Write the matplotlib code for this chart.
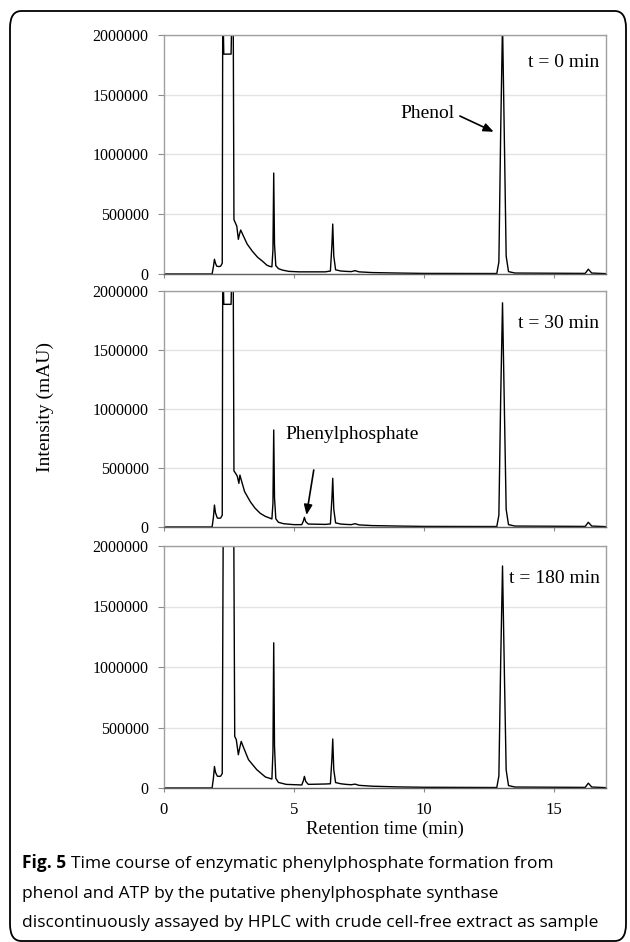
import matplotlib
matplotlib.use("Agg")
import matplotlib.pyplot as plt
from matplotlib.patches import FancyBboxPatch

# chromatogram at t = 0 min (retention time in min, intensity in mAU)
time_0 = [
    0, 1.85, 1.90, 1.94, 1.98, 2.03, 2.12, 2.18, 2.24, 2.26, 2.30,
    2.58, 2.62, 2.66, 2.69, 2.74, 2.80, 2.86, 2.90, 2.95, 3.05, 3.20,
    3.40, 3.60, 3.80, 3.95, 4.05, 4.15, 4.19, 4.22, 4.25, 4.30, 4.40,
    4.55, 4.80, 5.20, 6.20, 6.40, 6.46, 6.49, 6.53, 6.60, 6.80, 7.00,
    7.20, 7.35, 7.50, 8.00, 9.00, 10.0, 12.80, 12.88, 12.95, 13.02,
    13.10, 13.16, 13.25, 13.50, 16.20, 16.32, 16.45, 17.0
]
signal_0 = [
    0, 0, 60000, 123000, 90000, 65000, 62000, 66000, 90000, 2300000,
    1840000, 1840000, 2300000, 2300000, 455000, 430000, 400000, 290000,
    330000, 368000, 320000, 250000, 190000, 140000, 105000, 75000,
    65000, 60000, 200000, 845000, 250000, 70000, 45000, 33000, 22000,
    18000, 18000, 25000, 250000, 418000, 150000, 35000, 25000, 22000,
    20000, 28000, 18000, 12000, 8000, 5000, 4000, 100000, 1200000,
    2100000, 1000000, 150000, 20000, 8000, 5000, 40000, 8000, 3000
]

# chromatogram at t = 30 min
time_30 = [
    0, 1.85, 1.90, 1.94, 1.98, 2.05, 2.12, 2.18, 2.24, 2.26, 2.30,
    2.58, 2.62, 2.66, 2.69, 2.74, 2.82, 2.88, 2.92, 2.97, 3.10, 3.32,
    3.50, 3.70, 3.90, 4.09, 4.15, 4.19, 4.22, 4.25, 4.30, 4.40, 4.60,
    5.00, 5.30, 5.36, 5.40, 5.45, 5.55, 6.20, 6.40, 6.46, 6.49, 6.53,
    6.60, 6.80, 7.00, 7.20, 7.35, 7.50, 8.00, 9.00, 10.0, 12.80, 12.88,
    12.95, 13.02, 13.10, 13.16, 13.25, 13.50, 16.20, 16.32, 16.45, 17.0
]
signal_30 = [
    0, 0, 80000, 186000, 120000, 76000, 74000, 76000, 100000, 2300000,
    1887000, 1887000, 2300000, 2300000, 475000, 460000, 430000, 370000,
    440000, 400000, 300000, 214000, 160000, 116000, 90000, 74000,
    68000, 200000, 822000, 250000, 70000, 40000, 28000, 20000, 20000,
    50000, 82000, 45000, 25000, 22000, 26000, 250000, 413000, 150000,
    35000, 25000, 22000, 20000, 28000, 18000, 12000, 8000, 5000, 4000,
    100000, 1100000, 1900000, 900000, 150000, 20000, 8000, 5000, 40000,
    8000, 3000
]

# chromatogram at t = 180 min
time_180 = [
    0, 1.85, 1.90, 1.94, 1.98, 2.05, 2.12, 2.18, 2.24, 2.28, 2.68,
    2.72, 2.78, 2.86, 2.90, 2.97, 3.05, 3.25, 3.57, 3.90, 4.15, 4.19,
    4.22, 4.25, 4.30, 4.40, 4.70, 5.30, 5.36, 5.40, 5.45, 5.55, 6.20,
    6.40, 6.46, 6.49, 6.53, 6.60, 6.80, 7.00, 7.20, 7.35, 7.50, 8.00,
    9.00, 10.0, 12.80, 12.88, 12.95, 13.02, 13.10, 13.16, 13.25, 13.50,
    16.20, 16.32, 16.45, 17.0
]
signal_180 = [
    0, 0, 80000, 178000, 130000, 98000, 96000, 98000, 120000, 2300000,
    2300000, 426000, 400000, 275000, 320000, 385000, 340000, 234000,
    151000, 91000, 74000, 300000, 1200000, 350000, 80000, 46000, 30000,
    25000, 60000, 96000, 55000, 30000, 33000, 35000, 250000, 405000,
    150000, 45000, 35000, 30000, 27000, 32000, 22000, 15000, 9000, 6000,
    4000, 100000, 1050000, 1835000, 850000, 150000, 20000, 8000, 5000,
    40000, 8000, 3000
]

panel_labels = ["t = 0 min", "t = 30 min", "t = 180 min"]
label_heights = [1774000, 1726000, 1733000]

y_ticks = [0, 500000, 1000000, 1500000, 2000000]
x_ticks = [0, 5, 10, 15]

caption_lines = [
    "Time course of enzymatic phenylphosphate formation from",
    "phenol and ATP by the putative phenylphosphate synthase",
    "discontinuously assayed by HPLC with crude cell-free extract as sample"
]

serif = "Liberation Serif"
caption_font = "Open Sans"

fig = plt.figure(figsize=(6.3, 9.42), dpi=100)

# rounded frame around the whole figure
frame = FancyBboxPatch(
    (10 / 630, 1 / 942),
    616 / 630,
    930 / 942,
    boxstyle="round,pad=0,rounding_size=0.018",
    transform=fig.transFigure,
    facecolor="none",
    edgecolor="black",
    linewidth=1.3
)
fig.patches.append(frame)

# axes boxes in pixels: (top, bottom)
boxes = [(35, 274), (291, 527), (546, 788)]
left_px, right_px = 164, 606

traces = [
    (time_0, signal_0),
    (time_30, signal_30),
    (time_180, signal_180)
]

axes = []

for i, (top, bottom) in enumerate(boxes):

    ax = fig.add_axes([
        left_px / 630,
        1 - bottom / 942,
        (right_px - left_px) / 630,
        (bottom - top) / 942
    ])

    t, s = traces[i]

    ax.plot(t, s, color="black", linewidth=1.0)

    ax.set_xlim(0, 17)
    ax.set_ylim(0, 2000000)

    ax.set_yticks(y_ticks)
    ax.set_yticklabels(
        [str(v) for v in y_ticks],
        fontfamily=serif,
        fontsize=11.5
    )

    ax.set_xticks(x_ticks)

    if i == 2:
        ax.set_xticklabels(
            [str(v) for v in x_ticks],
            fontfamily=serif,
            fontsize=12
        )
    else:
        ax.set_xticklabels([])

    ax.grid(axis="y", color="#e3e3e3", linewidth=1.0)
    ax.set_axisbelow(True)

    ax.tick_params(
        axis="y",
        direction="out",
        length=4,
        width=0.8,
        color="#8c8c8c",
        pad=7
    )

    ax.tick_params(
        axis="x",
        direction="out",
        length=3,
        width=0.8,
        color="#8c8c8c",
        pad=7
    )

    for side in ["top", "right", "left"]:
        ax.spines[side].set_color("#a0a0a0")
        ax.spines[side].set_linewidth(1.0)

    ax.spines["bottom"].set_color("#606060")
    ax.spines["bottom"].set_linewidth(1.0)

    ax.text(
        16.75,
        label_heights[i],
        panel_labels[i],
        ha="right",
        va="center",
        fontfamily=serif,
        fontsize=14
    )

    axes.append(ax)

# annotations
arrow_style = dict(
    arrowstyle="-|>,head_length=0.6,head_width=0.25",
    color="black",
    linewidth=1.2,
    shrinkA=0,
    shrinkB=0
)

axes[0].text(
    10.14,
    1347000,
    "Phenol",
    ha="center",
    va="center",
    fontfamily=serif,
    fontsize=14
)

axes[0].annotate(
    "",
    xy=(12.68, 1190000),
    xytext=(11.38, 1322000),
    arrowprops=arrow_style
)

axes[1].text(
    7.25,
    780000,
    "Phenylphosphate",
    ha="center",
    va="center",
    fontfamily=serif,
    fontsize=14
)

axes[1].annotate(
    "",
    xy=(5.48, 102000),
    xytext=(5.76, 483000),
    arrowprops=arrow_style
)

fig.text(
    45 / 630,
    1 - 407 / 942,
    "Intensity (mAU)",
    rotation=90,
    ha="center",
    va="center",
    fontfamily=serif,
    fontsize=14
)

fig.text(
    385 / 630,
    1 - 829 / 942,
    "Retention time (min)",
    ha="center",
    va="center",
    fontfamily=serif,
    fontsize=13.5
)

# caption, baselines in pixels
cap_x = 22 / 630
cap_size = 12.5
baselines = [868, 898, 927]

fig_label = fig.text(
    cap_x,
    1 - baselines[0] / 942,
    "Fig. 5",
    ha="left",
    va="baseline",
    fontfamily=caption_font,
    fontweight="bold",
    fontsize=cap_size
)

plt.annotate(
    caption_lines[0],
    xy=(1, 0),
    xycoords=fig_label,
    xytext=(3.5, 0),
    textcoords="offset points",
    ha="left",
    va="bottom",
    fontfamily=caption_font,
    fontsize=cap_size
)

for line, base in zip(caption_lines[1:], baselines[1:]):

    fig.text(
        cap_x,
        1 - base / 942,
        line,
        ha="left",
        va="baseline",
        fontfamily=caption_font,
        fontsize=cap_size
    )

fig.savefig("out.png", dpi=100)
